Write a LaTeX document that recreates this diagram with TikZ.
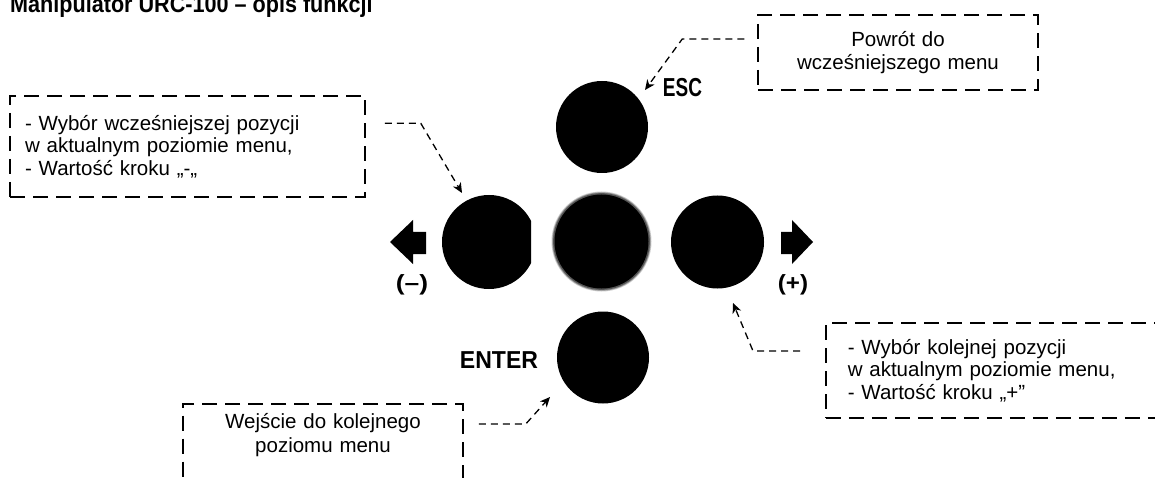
\documentclass[tikz,border=0pt]{standalone}
\usepackage{fontspec}
\setmainfont{Liberation Sans}
\newfontfamily\titlefont[FakeStretch=0.9]{Liberation Sans}
\usepackage{graphicx}
\usetikzlibrary{arrows.meta,calc}
\begin{document}
\begin{tikzpicture}[x=1pt,y=-1pt,
  btn/.style={circle, fill=black, inner sep=0pt},
  infobox/.style={draw, line width=1.5pt, dash pattern=on 15pt off 8pt, font=\fontsize{20.5}{22.5}\selectfont, inner ysep=0pt},
  leader/.style={line width=1.3pt, dash pattern=on 7pt off 5pt, -{Stealth[length=10pt,width=9pt,inset=3pt]}},
  keylbl/.style={inner sep=0pt},
  blockarrow/.style={fill=black}
]
\useasboundingbox (0,0) rectangle (1155,478);
\clip (0,0) rectangle (1155,478);

% title
\node[anchor=base west, inner sep=0pt, font=\titlefont\fontsize{24}{24}\selectfont\bfseries] (title) at (10,13) {Manipulator URC-100 – opis funkcji};

% buttons
\node[btn, minimum size=92pt] (esc) at (602,127) {};
\begin{scope}
  \clip (0,0) rectangle (531,478);
  \node[btn, minimum size=94pt] (bleft) at (489,242) {};
\end{scope}
\node[btn, minimum size=94pt] (mid) at (601.5,241.5) {};
\fill[black,opacity=0.2] (mid.center) circle[radius=50];
\fill[black,opacity=0.3] (mid.center) circle[radius=49.2];
\fill[black,opacity=0.4] (mid.center) circle[radius=48.4];
\node[btn, minimum size=93pt] (bright) at (717.5,242) {};
\node[btn, minimum size=92pt] (enter) at (603,357.5) {};

% key labels
\node[keylbl, font=\fontsize{26}{26}\selectfont\bfseries] (esclbl) at (682.5,87.5) {\scalebox{0.73}[1]{ESC}};
\node[keylbl, font=\fontsize{24.5}{24.5}\selectfont\bfseries] (enterlbl) at (499,360.5) {\scalebox{0.94}[1]{ENTER}};
\node[keylbl, font=\fontsize{22}{22}\selectfont\bfseries] (minuslbl) at (412,285) {\scalebox{1.2}[1]{(–)}};
\node[keylbl, font=\fontsize{22}{22}\selectfont\bfseries] (pluslbl) at (793,285) {\scalebox{1.1}[1]{(+)}};

% block arrows
\fill[blockarrow] (390,242) -- (413,220) -- (413,232) -- (426,232) -- (426,254) -- (413,254) -- (413,264) -- cycle;
\fill[blockarrow] (813,242) -- (792,220) -- (792,232) -- (781,232) -- (781,254) -- (792,254) -- (792,264) -- cycle;

% boxes
\node[infobox, align=left, text width=325pt, inner xsep=15pt, minimum height=101pt] (box1) at (187.5,146.5)
  {- Wybór wcześniejszej pozycji\\w aktualnym poziomie menu,\\- Wartość kroku „-„};
\node[infobox, align=center, text width=250pt, inner xsep=15pt, minimum height=75pt] (box2) at (898,52.5)
  {Powrót do\\wcześniejszego menu};
\node[infobox, align=left, text width=356pt, inner xsep=22pt, minimum height=95pt, anchor=west] (box3) at (825,370.5)
  {- Wybór kolejnej pozycji\\w aktualnym poziomie menu,\\- Wartość kroku „+”};
\node[infobox, align=center, text width=250pt, inner xsep=15pt, inner ysep=10pt, text depth=60pt, anchor=north,
  font=\fontsize{20.5}{24}\selectfont] (box4) at (323,403)
  {Wejście do kolejnego\\poziomu menu};

% leaders
\coordinate (l1s) at ($(box1.north east)+(19,28)$);
\coordinate (l1e) at ($(bleft.center)+(-27,-49)$);
\draw[leader] (l1s) -- ++(36,0) -- (l1e);

\coordinate (l2s) at ($(box2.west)+(-13,-13.5)$);
\coordinate (l2e) at ($(esc.center)+(43,-37)$);
\draw[leader] (l2s) -- ++(-62,0) -- (l2e);

\coordinate (l3s) at ($(box3.west)+(-25,-19.5)$);
\coordinate (l3e) at ($(bright.center)+(15.5,61)$);
\draw[leader] (l3s) -- ++(-47,0) -- (l3e);

\coordinate (l4s) at ($(box4.north east)+(15,21)$);
\coordinate (l4e) at ($(enter.center)+(-53,39.5)$);
\draw[leader] (l4s) -- ++(47,0) -- (l4e);
\end{tikzpicture}
\end{document}
